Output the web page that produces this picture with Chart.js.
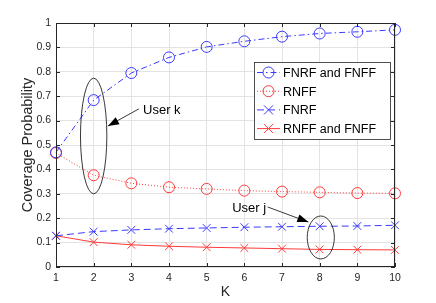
<!DOCTYPE html>
<html>
<head>
<meta charset="utf-8">
<script src="https://cdn.jsdelivr.net/npm/chart.js@4"></script>
<style>
  body { margin: 0; background: #fff; }
  canvas { display: block; }
</style>
</head>
<body>
<canvas id="chart" width="436" height="303"></canvas>
<script>
const K = [1, 2, 3, 4, 5, 6, 7, 8, 9, 10];
const fnrfAndFnff = [0.47, 0.684, 0.795, 0.859, 0.902, 0.925, 0.944, 0.957, 0.964, 0.972];
const rnff = [0.467, 0.376, 0.343, 0.327, 0.320, 0.313, 0.309, 0.306, 0.303, 0.302];
const fnrf = [0.128, 0.145, 0.152, 0.157, 0.160, 0.163, 0.165, 0.167, 0.168, 0.171];
const rnffAndFnff = [0.128, 0.102, 0.091, 0.085, 0.081, 0.078, 0.075, 0.072, 0.071, 0.070];
const seriesNames = ['FNRF and FNFF', 'RNFF', 'FNRF', 'RNFF and FNFF'];
const yTicks = [0, 0.1, 0.2, 0.3, 0.4, 0.5, 0.6, 0.7, 0.8, 0.9, 1];

const blue = '#3a3aff';
const red = '#ff3a3a';
const axisColor = '#262626';
const font = '"Liberation Sans", Arial, sans-serif';

function pts(arr) {
    return K.map((k, i) => ({ x: k, y: arr[i] }));
}

function drawMarker(ctx, style, x, y, color) {
    ctx.save();
    ctx.strokeStyle = color;
    ctx.lineWidth = 1;
    ctx.setLineDash([]);
    ctx.beginPath();
    if (style === 'circle') {
        ctx.arc(x, y, 5.5, 0, Math.PI * 2);
    } else {
        ctx.moveTo(x - 4.5, y - 4.5); ctx.lineTo(x + 4.5, y + 4.5);
        ctx.moveTo(x + 4.5, y - 4.5); ctx.lineTo(x - 4.5, y + 4.5);
    }
    ctx.stroke();
    ctx.restore();
}

function arrow(ctx, x1, y1, x2, y2) {
    ctx.beginPath();
    ctx.moveTo(x1, y1);
    ctx.lineTo(x2, y2);
    ctx.stroke();
    const a = Math.atan2(y2 - y1, x2 - x1);
    const len = 11, w = 4;
    ctx.beginPath();
    ctx.moveTo(x2, y2);
    ctx.lineTo(x2 - len * Math.cos(a) + w * Math.sin(a), y2 - len * Math.sin(a) - w * Math.cos(a));
    ctx.lineTo(x2 - len * Math.cos(a) - w * Math.sin(a), y2 - len * Math.sin(a) + w * Math.cos(a));
    ctx.closePath();
    ctx.fill();
}

const extras = {
    id: 'extras',
    afterDatasetsDraw(chart) {
        const ctx = chart.ctx;
        const xs = chart.scales.x, ys = chart.scales.y;
        const a = chart.chartArea;
        const X = v => xs.getPixelForValue(v);
        const Y = v => ys.getPixelForValue(v);

        // box + inward ticks
        ctx.save();
        ctx.strokeStyle = axisColor;
        ctx.lineWidth = 1;
        ctx.strokeRect(a.left + 0.5, a.top + 0.5, a.right - a.left - 1, a.bottom - a.top - 1);
        ctx.beginPath();
        K.forEach(k => {
            const px = Math.round(X(k)) + 0.5;
            ctx.moveTo(px, a.bottom); ctx.lineTo(px, a.bottom - 4);
            ctx.moveTo(px, a.top); ctx.lineTo(px, a.top + 4);
        });
        yTicks.forEach(t => {
            const py = Math.round(Y(t)) + 0.5;
            ctx.moveTo(a.left, py); ctx.lineTo(a.left + 4, py);
            ctx.moveTo(a.right, py); ctx.lineTo(a.right - 4, py);
        });
        ctx.stroke();

        // annotations
        ctx.strokeStyle = '#222';
        ctx.fillStyle = '#000';
        ctx.lineWidth = 0.9;
        ctx.beginPath();
        ctx.ellipse(X(2), Y(0.537), X(2.35) - X(2), Y(0.3) - Y(0.537), 0, 0, Math.PI * 2);
        ctx.stroke();
        ctx.beginPath();
        ctx.ellipse(X(8.03), Y(0.121), X(8.39) - X(8.03), Y(0.033) - Y(0.121), 0, 0, Math.PI * 2);
        ctx.stroke();
        arrow(ctx, X(3.2), Y(0.648), X(2.38), Y(0.578));
        arrow(ctx, X(6.62), Y(0.246), X(7.7), Y(0.184));
        ctx.font = '13px ' + font;
        ctx.textBaseline = 'middle';
        ctx.textAlign = 'left';
        ctx.fillText('User k', X(3.31), Y(0.643));
        ctx.textAlign = 'right';
        ctx.fillText('User j', X(6.58), Y(0.242));

        // legend
        const lx = 254, ly = 62, lw = 136, lh = 77;
        ctx.fillStyle = '#fff';
        ctx.fillRect(lx, ly, lw, lh);
        ctx.strokeStyle = axisColor;
        ctx.lineWidth = 0.8;
        ctx.strokeRect(lx + 0.5, ly + 0.5, lw, lh);
        const markers = ['circle', 'circle', 'cross', 'cross'];
        chart.data.datasets.forEach((ds, i) => {
            const ry = ly + 10.5 + i * 18.7;
            ctx.strokeStyle = ds.borderColor;
            ctx.lineWidth = 1;
            ctx.setLineDash(ds.borderDash || []);
            ctx.beginPath();
            ctx.moveTo(257, ry); ctx.lineTo(280, ry);
            ctx.stroke();
            drawMarker(ctx, markers[i], 268.5, ry, ds.borderColor);
            ctx.fillStyle = '#000';
            ctx.font = '12.5px ' + font;
            ctx.textAlign = 'left';
            ctx.fillText(ds.label, 283, ry + 1);
        });
        ctx.restore();
    }
};

new Chart(document.getElementById('chart'), {
    type: 'line',
    data: {
        datasets: [
            { label: seriesNames[0], data: pts(fnrfAndFnff), borderColor: blue, borderDash: [6, 3, 1.5, 3],
              pointStyle: 'circle', pointRadius: 5.5 },
            { label: seriesNames[1], data: pts(rnff), borderColor: red, borderDash: [1, 2],
              pointStyle: 'circle', pointRadius: 5.5 },
            { label: seriesNames[2], data: pts(fnrf), borderColor: blue, borderDash: [7, 4],
              pointStyle: 'crossRot', pointRadius: 5.5 },
            { label: seriesNames[3], data: pts(rnffAndFnff), borderColor: red,
              pointStyle: 'crossRot', pointRadius: 5.5 }
        ].map(d => Object.assign({
            borderWidth: 1, pointBorderWidth: 1, pointBackgroundColor: 'rgba(0,0,0,0)',
            pointBorderColor: d.borderColor, fill: false, tension: 0, clip: false
        }, d))
    },
    options: {
        responsive: false,
        animation: false,
        layout: { padding: { top: 23, right: 41, left: 0, bottom: 0 } },
        plugins: { legend: { display: false }, tooltip: { enabled: false } },
        scales: {
            x: {
                type: 'linear', min: 1, max: 10,
                afterFit: s => { s.height = 36; },
                afterBuildTicks: s => { s.ticks = K.map(v => ({ value: v })); },
                grid: { color: '#e3e3e3', tickLength: 0, drawTicks: false },
                border: { display: false },
                ticks: { color: axisColor, font: { family: font, size: 10.5 }, padding: 5, maxRotation: 0 },
                title: { display: true, text: 'K', color: axisColor, font: { family: font, size: 14 },
                         padding: { top: 0, bottom: 2 } }
            },
            y: {
                type: 'linear', min: 0, max: 1,
                afterFit: s => { s.width = 56; },
                afterBuildTicks: s => { s.ticks = yTicks.map(v => ({ value: v })); },
                grid: { color: '#e3e3e3', drawTicks: false },
                border: { display: false },
                ticks: { color: axisColor, font: { family: font, size: 10.5 }, padding: 5,
                         callback: v => String(+v.toFixed(1)) },
                title: { display: true, text: 'Coverage Probability', color: axisColor,
                         font: { family: font, size: 14.5 }, padding: { top: 19, bottom: 0 } }
            }
        }
    },
    plugins: [extras]
});
</script>
</body>
</html>
